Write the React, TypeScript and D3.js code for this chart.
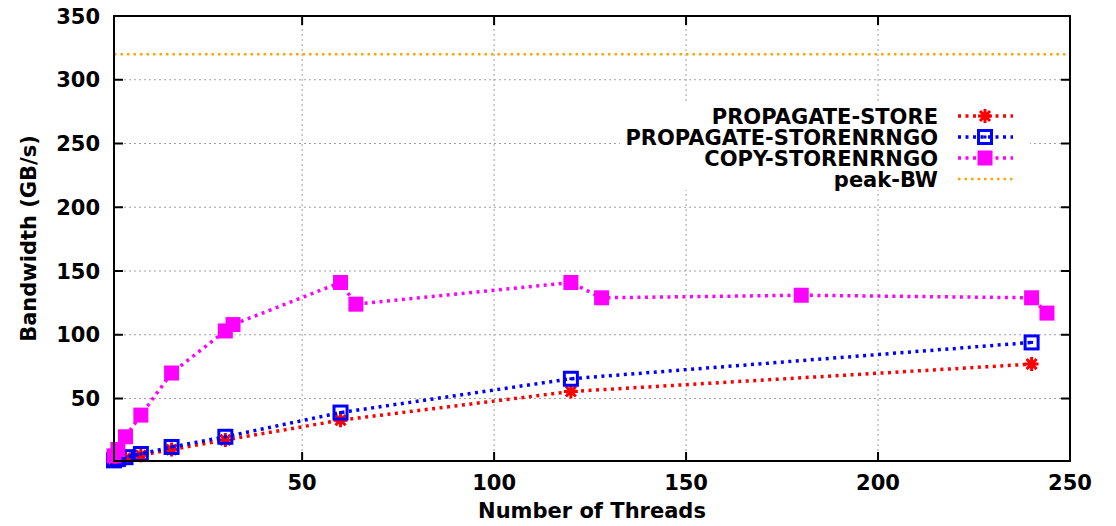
import { useEffect, useRef } from 'react'
import * as d3 from 'd3'

// PROPAGATE-STORE
const storeThreads = [1, 2, 4, 8, 16, 30, 60, 120, 240]
const storeBw = [1, 1.8, 3, 5.5, 10, 17.5, 33, 55.5, 77]

// PROPAGATE-STORENRNGO
const nrngoThreads = [1, 2, 4, 8, 16, 30, 60, 120, 240]
const nrngoBw = [1.5, 2.5, 4, 6.5, 12, 20, 39, 65.5, 94]

// COPY-STORENRNGO
const copyThreads = [1, 2, 4, 8, 16, 30, 32, 60, 64, 120, 128, 180, 240, 244]
const copyBw = [5, 10, 20, 37, 70, 103, 108, 141, 124, 141, 129, 131, 129, 117]

const peakBw = 320

const xTicks = [50, 100, 150, 200, 250]
const yTicks = [50, 100, 150, 200, 250, 300, 350]

const W = 1116
const H = 526
const margin = { left: 114, right: 46, top: 16, bottom: 65 }
const FONT = '"DejaVu Sans", Verdana, sans-serif'

export default function App() {
  const svgRef = useRef<SVGSVGElement>(null)

  useEffect(() => {
    if (!svgRef.current) return
    const svg = d3.select(svgRef.current)
    svg.selectAll('*').remove()

    const x0 = margin.left
    const x1 = W - margin.right
    const y0 = H - margin.bottom
    const y1 = margin.top

    const x = d3.scaleLinear().domain([1, 250]).range([x0, x1])
    const y = d3.scaleLinear().domain([1, 350]).range([y0, y1])

    svg.append('rect').attr('width', W).attr('height', H).attr('fill', 'white')

    // grid
    const grid = svg.append('g')
    xTicks.filter(t => t < 250).forEach(t => {
      grid.append('line')
        .attr('x1', x(t)).attr('x2', x(t)).attr('y1', y0).attr('y2', y1)
        .attr('stroke', '#a0a0a0').attr('stroke-width', 1).attr('stroke-dasharray', '2,3')
    })
    yTicks.filter(t => t < 350).forEach(t => {
      grid.append('line')
        .attr('x1', x0).attr('x2', x1).attr('y1', y(t)).attr('y2', y(t))
        .attr('stroke', '#a0a0a0').attr('stroke-width', 1).attr('stroke-dasharray', '2,3')
    })

    // peak line
    svg.append('line')
      .attr('x1', x0).attr('x2', x1).attr('y1', y(peakBw)).attr('y2', y(peakBw))
      .attr('stroke', '#ffa500').attr('stroke-width', 2.5).attr('stroke-dasharray', '2.5,4')

    // legend box (drawn before data so data stays on top)
    const legX = 938
    const legRows = [116, 137, 158, 179]
    svg.append('rect').attr('x', 620).attr('y', 104).attr('width', 410).attr('height', 86).attr('fill', 'white')

    const line = d3.line<[number, number]>().x(d => x(d[0])).y(d => y(d[1]))

    const series = [
      { name: 'PROPAGATE-STORE', color: '#ff0000', xs: storeThreads, ys: storeBw, marker: 'star' },
      { name: 'PROPAGATE-STORENRNGO', color: '#0000ff', xs: nrngoThreads, ys: nrngoBw, marker: 'osquare' },
      { name: 'COPY-STORENRNGO', color: '#ff00ff', xs: copyThreads, ys: copyBw, marker: 'fsquare' },
    ]

    const drawMarker = (g: d3.Selection<SVGGElement, unknown, null, undefined>, kind: string, cx: number, cy: number, color: string) => {
      if (kind === 'star') {
        const s = 7
        const d = s * 0.72
        const p = `M${cx - s},${cy}L${cx + s},${cy}M${cx},${cy - s}L${cx},${cy + s}` +
          `M${cx - d},${cy - d}L${cx + d},${cy + d}M${cx - d},${cy + d}L${cx + d},${cy - d}`
        g.append('path').attr('d', p).attr('stroke', color).attr('stroke-width', 3).attr('fill', 'none')
      } else if (kind === 'osquare') {
        g.append('rect').attr('x', cx - 6.5).attr('y', cy - 6.5).attr('width', 13).attr('height', 13)
          .attr('fill', 'none').attr('stroke', color).attr('stroke-width', 3)
        g.append('rect').attr('x', cx - 1.5).attr('y', cy - 1.5).attr('width', 3).attr('height', 3).attr('fill', color)
      } else {
        g.append('rect').attr('x', cx - 7.5).attr('y', cy - 7.5).attr('width', 15).attr('height', 15).attr('fill', color)
      }
    }

    series.forEach(s => {
      const pts = s.xs.map((v, i) => [v, s.ys[i]] as [number, number])
      svg.append('path').attr('d', line(pts)!)
        .attr('fill', 'none').attr('stroke', s.color).attr('stroke-width', 3.5)
        .attr('stroke-dasharray', '3,4.5')
      const g = svg.append('g')
      pts.forEach(p => drawMarker(g, s.marker, x(p[0]), y(p[1]), s.color))
    })

    // legend
    const leg = svg.append('g')
    const allLeg = [...series, { name: 'peak-BW', color: '#ffa500', marker: '' }]
    allLeg.forEach((s, i) => {
      const ly = legRows[i]
      leg.append('text').attr('x', legX).attr('y', ly).attr('dy', '0.36em')
        .attr('text-anchor', 'end').attr('font-family', FONT).attr('font-weight', 'bold')
        .attr('font-size', 21).attr('fill', 'black').text(s.name)
      leg.append('line').attr('x1', 958).attr('x2', 1013).attr('y1', ly).attr('y2', ly)
        .attr('stroke', s.color).attr('stroke-width', s.marker ? 3.5 : 2.5)
        .attr('stroke-dasharray', s.marker ? '3,4.5' : '2.5,4')
      if (s.marker) drawMarker(leg as any, s.marker, 985, ly, s.color)
    })

    // frame and ticks
    const axis = svg.append('g')
    axis.append('rect').attr('x', x0).attr('y', y1).attr('width', x1 - x0).attr('height', y0 - y1)
      .attr('fill', 'none').attr('stroke', 'black').attr('stroke-width', 2)
    const tl = 9
    xTicks.forEach(t => {
      axis.append('line').attr('x1', x(t)).attr('x2', x(t)).attr('y1', y0).attr('y2', y0 - tl).attr('stroke', 'black').attr('stroke-width', 2)
      axis.append('line').attr('x1', x(t)).attr('x2', x(t)).attr('y1', y1).attr('y2', y1 + tl).attr('stroke', 'black').attr('stroke-width', 2)
      axis.append('text').attr('x', x(t)).attr('y', y0 + 29).attr('text-anchor', 'middle')
        .attr('font-family', FONT).attr('font-weight', 'bold').attr('font-size', 21).text(t)
    })
    yTicks.forEach(t => {
      axis.append('line').attr('x1', x0).attr('x2', x0 + tl).attr('y1', y(t)).attr('y2', y(t)).attr('stroke', 'black').attr('stroke-width', 2)
      axis.append('line').attr('x1', x1).attr('x2', x1 - tl).attr('y1', y(t)).attr('y2', y(t)).attr('stroke', 'black').attr('stroke-width', 2)
      axis.append('text').attr('x', x0 - 14).attr('y', y(t)).attr('dy', '0.36em').attr('text-anchor', 'end')
        .attr('font-family', FONT).attr('font-weight', 'bold').attr('font-size', 21).text(t)
    })

    svg.append('text').attr('x', (x0 + x1) / 2).attr('y', 518).attr('text-anchor', 'middle')
      .attr('font-family', FONT).attr('font-weight', 'bold').attr('font-size', 21).text('Number of Threads')
    svg.append('text').attr('transform', `translate(36,${(y0 + y1) / 2}) rotate(-90)`).attr('text-anchor', 'middle')
      .attr('font-family', FONT).attr('font-weight', 'bold').attr('font-size', 21).text('Bandwidth (GB/s)')
  }, [])

  return (
    <div style={{ position: 'fixed', left: 0, top: 0 }}>
      <svg ref={svgRef} width={W} height={H} style={{ display: 'block' }} />
    </div>
  )
}
